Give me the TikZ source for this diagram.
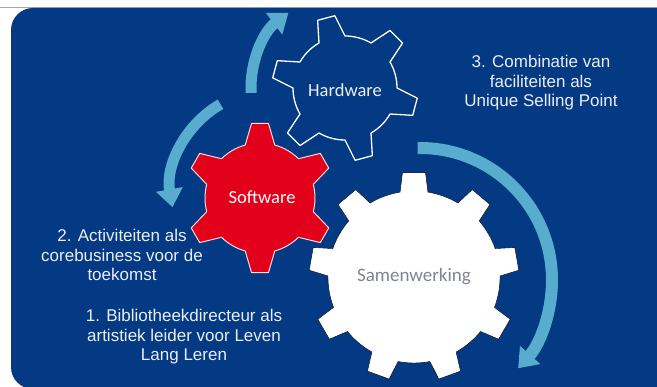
\documentclass[tikz,border=0pt]{standalone}
\usepackage{fontspec}
\setmainfont{Liberation Sans}
\newfontfamily\gearfont{Carlito}
\usetikzlibrary{calc,arrows.meta}
\definecolor{panelblue}{RGB}{4,57,131}
\definecolor{gearred}{RGB}{226,0,26}
\definecolor{arrowblue}{RGB}{88,172,205}
\definecolor{labelgray}{RGB}{128,131,148}
\definecolor{textwhite}{RGB}{236,238,246}
% gear: [style](centre)(teeth:phase:inner r:outer r:tip half angle:base half angle)
\def\gear[#1](#2)(#3:#4:#5:#6:#7:#8){\draw[#1] ($(#2)+(#4-#8:#5)$)
	\foreach \i [evaluate=\i as \a using {#4+(\i-1)*360/#3}, evaluate=\i as \s using {#4+(\i-1)*360/#3+#8}, evaluate=\i as \e using {#4+\i*360/#3-#8}] in {1,...,#3}
	{ -- ($(#2)+(\a-#8:#5)$) -- ($(#2)+(\a-#7:#6)$) -- ($(#2)+(\a+#7:#6)$) -- ($(#2)+(\a+#8:#5)$) arc[start angle=\s, end angle=\e, radius=#5] } -- cycle;}

\begin{document}
\begin{tikzpicture}[x=1pt,y=1pt,
	gearlabel/.style={font=\gearfont\fontsize{18.5}{20}\selectfont},
	infotext/.style={text=textwhite,align=center,font=\fontsize{17}{19.5}\selectfont},
	turn/.style={arrowblue,line width=11pt,-{Triangle[width=26pt,length=18pt]}}]
			%%%%% START %%%%%
			
			\useasboundingbox (0,0) rectangle (657,-387);
			\fill[white] (0,0) rectangle (657,-387);
			\draw[black!35] (0,-7.5) -- (657,-7.5);
			\fill[panelblue, rounded corners=22] (11,-8) rectangle (700,-389);
			
			\coordinate (hwc) at (345,-88);
			\coordinate (swc) at (260,-198);
			\coordinate (smc) at (414,-277);
			
			\gear[draw=white, line width=1.3pt, fill=panelblue, line join=round](hwc)(6:105:52:73:7:15);
			\gear[fill=white](smc)(9:90:86:105:6.3:9.3);
			\gear[draw=white!85!red, line width=1pt, fill=gearred, line join=round](swc)(6:90:55:75:6.5:15.6);
			
			\draw[turn] ($(hwc)+(183:94)$) arc[start angle=183, end angle=127, radius=94];
			\draw[turn] ($(swc)+(10,8)+(120:99)$) arc[start angle=120, end angle=190, radius=99];
			\draw[turn, line width=12pt] ($(smc)+(6,-3)+(91:132)$) arc[start angle=91, end angle=-42, radius=132];
			
			\node[gearlabel, text=textwhite] (hw) at ($(hwc)+(0,-2)$) {Hardware};
			\node[gearlabel, text=white] (sw) at ($(swc)+(2,1)$) {Software};
			\node[gearlabel, text=labelgray, font=\gearfont\fontsize{19}{21}\selectfont] (sm) at (smc) {Samenwerking};
			
			\node[infotext] (usp) at (541,-83) {3. Combinatie van\\faciliteiten als\\Unique Selling Point};
			\node[infotext] (core) at (122,-255) {2. Activiteiten als\\corebusiness voor de\\toekomst};
			\node[infotext] (lead) at (184,-337) {1. Bibliotheekdirecteur als\\artistiek leider voor Leven\\Lang Leren};
			
			%%%%% END %%%%%
		\end{tikzpicture}
\end{document}
